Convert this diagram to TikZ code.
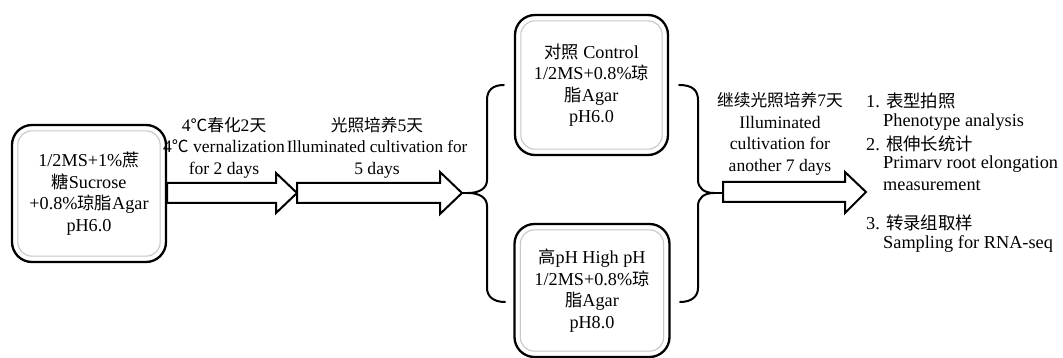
\documentclass[tikz,border=0pt]{standalone}
\usepackage{fontspec}
\setmainfont{Liberation Serif}
\newfontfamily\serifface{Liberation Serif}
\newfontfamily\cjk[Scale=0.95]{Noto Sans CJK SC}
\newcommand{\zh}[1]{{\cjk #1}}
\begin{document}
\begin{tikzpicture}[x=1pt,y=-1pt,
  boxo/.style={draw=black, line width=2.3pt, rounded corners=20pt, fill=white,
    align=center, inner sep=0pt, font=\serifface\fontsize{18.2}{21.5}\selectfont},
  boxi/.style={draw=black!22, line width=1.1pt, rounded corners=14pt},
  blockarrow/.style={draw=black, line width=2pt, fill=white, line join=miter},
  brace/.style={draw=black, line width=2pt, line cap=round},
  lbl/.style={align=center, inner sep=0pt, font=\serifface\fontsize{17.6}{21.5}\selectfont},
  item/.style={anchor=west, inner sep=0pt, font=\serifface\fontsize{18.3}{21}\selectfont}
]
\useasboundingbox (0,0) rectangle (1063,358);

% boxes
\node[boxo, minimum width=154pt, minimum height=137pt] (b1) at (89,193.5)
  {1/2MS+1\%\zh{蔗}\\\zh{糖}Sucrose\\+0.8\%\zh{琼脂}Agar\\pH6.0};
\node[boxo, minimum width=153pt, minimum height=140pt] (b2) at (591.5,85)
  {\zh{对照} Control\\1/2MS+0.8\%\zh{琼}\\\zh{脂}Agar\\pH6.0};
\node[boxo, minimum width=155pt, minimum height=133pt] (b3) at (592,290.5)
  {\zh{高}pH High pH\\1/2MS+0.8\%\zh{琼}\\\zh{脂}Agar\\pH8.0};
\foreach \b in {b1,b2,b3}{
  \draw[boxi] ([xshift=7pt,yshift=-7pt]\b.north west) rectangle ([xshift=-7pt,yshift=7pt]\b.south east);
}

% arrow 1
\coordinate (a1tip) at (297,193);
\draw[blockarrow] (b1.east |- 0,183) -- (276,183) -- (276,173) -- (a1tip) -- (276,213) -- (276,203) -- (b1.east |- 0,203) -- cycle;
% arrow 2
\coordinate (a2tip) at (462,193);
\draw[blockarrow] (a1tip |- 0,183) -- (440,183) -- (440,172) -- (a2tip) -- (440,214) -- (440,203) -- (a1tip |- 0,203) -- cycle;

% left brace
\coordinate (lbt) at (468,193);
\draw[brace] (a2tip) -- (lbt);
\draw[brace] (b2.west |- 0,85) ++(-10,0) coordinate (lbu)
  .. controls (493,85) and (487,90) .. (487,100) -- (487,180)
  .. controls (487,188) and (480,193) .. (lbt)
  .. controls (480,193) and (487,198) .. (487,206) -- (487,288)
  .. controls (487,296) and (493,302) .. (505,302) coordinate (lbd);

% right brace
\coordinate (rbt) at (714,193);
\coordinate (a3tail) at (723,193);
\draw[brace] (b2.east |- 0,85) ++(10,0) coordinate (rbu)
  .. controls (692,85) and (698,90) .. (698,100) -- (698,180)
  .. controls (698,188) and (704,193) .. (rbt)
  .. controls (704,193) and (698,198) .. (698,206) -- (698,288)
  .. controls (698,296) and (692,302) .. (680,302) coordinate (rbd);
\draw[brace] (rbt) -- (a3tail);

% arrow 3
\coordinate (a3tip) at (866,192);
\draw[blockarrow] (a3tail |- 0,182) -- (845,182) -- (845,172) -- (a3tip) -- (845,213) -- (845,202) -- (a3tail |- 0,202) -- cycle;

% labels
\node[lbl] (t1) at (224,147.5) {4\zh{℃春化}2\zh{天}\\4\zh{℃} vernalization\\for 2 days};
\node[lbl] (t2) at (377,147.5) {\zh{光照培养}5\zh{天}\\\fontsize{17.1}{21.5}\selectfont Illuminated cultivation for\\5 days};
\node[lbl] (t3) at (780,134) {\zh{继续光照培养}7\zh{天}\\Illuminated\\cultivation for\\another 7 days};

% list
\node[item] (l1) at (866,101) {1. \zh{表型拍照}};
\node[item] (l1e) at (883,122) {Phenotype analysis};
\node[item] (l2) at (866,144) {2. \zh{根伸长统计}};
\node[item] (l2e) at (883,164.5) {Primarv root elongation};
\node[item] (l2f) at (883,185) {measurement};
\node[item] (l3) at (866,223) {3. \zh{转录组取样}};
\node[item] (l3e) at (883,244) {Sampling for RNA-seq};
\end{tikzpicture}
\end{document}
